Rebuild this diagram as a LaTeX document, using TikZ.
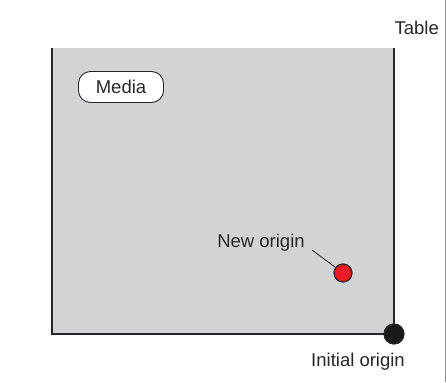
\documentclass[tikz,border=0pt]{standalone}
\usepackage{fontspec}
\setmainfont{Liberation Sans}
\usetikzlibrary{positioning}
\definecolor{mediagray}{RGB}{210, 211, 213}
\definecolor{dotred}{RGB}{237, 28, 36}

\begin{document}
\begin{tikzpicture}[
    x=1pt, y=-1pt,
    label/.style={font=\fontsize{18.5}{22}\selectfont, text=black!85, inner sep=1pt},
    mediabox/.style={rectangle, draw=black!85, fill=white, rounded corners=12pt, line width=0.9pt, minimum width=85pt, minimum height=31pt, font=\fontsize{18.5}{22}\selectfont, text=black!85},
    edge/.style={line width=1.6pt, black!85},
    dot/.style={circle, draw=black!85, line width=1.2pt, inner sep=0pt}
]
    \useasboundingbox (0,0) rectangle (446,382);
    % Table edge
    \draw[black!45, line width=0.8pt] (445,0) -- (445,382);
    \node[label, anchor=east] (table) at (440,28) {Table};

    % Media sheet
    \fill[mediagray] (52,48) rectangle (394,334);
    \coordinate (tl) at (52,48);
    \coordinate (tr) at (394,48);
    \draw[edge] (tl) -- (52,334) -- (394,334) -- (tr);
    \node[mediabox] (media) at (121,87) {Media};

    % Origins
    \node[dot, fill=dotred, minimum size=18pt] (new) at (343,273) {};
    \node[label] (newlbl) at (261,243) {New origin};
    \draw[black!85, line width=0.8pt] (312,250) -- (new);
    \node[dot, fill=black!90, minimum size=20pt] (init) at (394,334) {};
    \node[label] (initlbl) at (358,362) {Initial origin};
\end{tikzpicture}
\end{document}
